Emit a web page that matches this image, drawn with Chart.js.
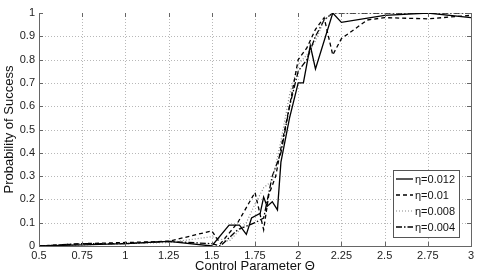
<!DOCTYPE html>
<html>
<head>
<meta charset="utf-8">
<script src="https://cdn.jsdelivr.net/npm/chart.js@4.4.1/dist/chart.umd.min.js"></script>
<style>
  html, body { margin: 0; padding: 0; background: #fff; }
  #wrap { width: 485px; height: 275px; }
</style>
</head>
<body>
<div id="wrap"><canvas id="chart"></canvas></div>
<script>
// data
const seriesLabels = ['η=0.012', 'η=0.01', 'η=0.008', 'η=0.004'];

const xA = [0.5, 0.75, 1.0, 1.25, 1.5, 1.6, 1.66, 1.7, 1.73, 1.78, 1.8, 1.82, 1.85, 1.88, 1.9, 1.95, 2.0, 2.03, 2.07, 2.1, 2.2, 2.25, 2.5, 2.75, 3.0];
const yA = [0, 0.005, 0.01, 0.02, 0, 0.09, 0.09, 0.05, 0.12, 0.14, 0.21, 0.17, 0.19, 0.155, 0.36, 0.55, 0.70, 0.70, 0.86, 0.76, 1.0, 0.96, 0.99, 1.0, 0.98];

const xB = [0.5, 0.75, 1.0, 1.25, 1.5, 1.55, 1.65, 1.75, 1.8, 1.83, 1.87, 1.9, 1.95, 2.0, 2.05, 2.1, 2.15, 2.2, 2.25, 2.4, 2.5, 2.75, 3.0];
const yB = [0, 0.01, 0.015, 0.02, 0.065, 0.01, 0.1, 0.23, 0.07, 0.22, 0.3, 0.42, 0.6, 0.8, 0.85, 0.93, 0.98, 0.82, 0.89, 0.97, 0.98, 0.975, 0.99];

const xC = [0.5, 0.75, 1.0, 1.25, 1.5, 1.6, 1.7, 1.75, 1.8, 1.85, 1.9, 1.95, 2.0, 2.05, 2.1, 2.15, 2.2, 2.5, 2.75, 3.0];
const yC = [0, 0.005, 0.01, 0.015, 0.04, 0.02, 0.1, 0.18, 0.25, 0.28, 0.45, 0.65, 0.78, 0.82, 0.88, 0.97, 1.0, 1.0, 1.0, 1.0];

const xD = [0.5, 0.75, 1.0, 1.25, 1.5, 1.55, 1.65, 1.75, 1.8, 1.85, 1.9, 1.95, 2.0, 2.05, 2.1, 2.15, 2.2, 2.5, 2.75, 3.0];
const yD = [0, 0.01, 0.01, 0.02, 0.01, 0, 0.07, 0.1, 0.12, 0.3, 0.4, 0.6, 0.75, 0.8, 0.9, 0.97, 1.0, 1.0, 1.0, 1.0];

const xTicks = [0.5, 0.75, 1, 1.25, 1.5, 1.75, 2, 2.25, 2.5, 2.75, 3];
const yTicks = [0, 0.1, 0.2, 0.3, 0.4, 0.5, 0.6, 0.7, 0.8, 0.9, 1];

const FONT = 'Liberation Sans, Arial, Helvetica, sans-serif';

function pts(xs, ys) {
    return xs.map((x, i) => ({ x: x, y: ys[i] }));
}

const styles = [
    { color: '#000', dash: [], width: 1.3 },
    { color: '#000', dash: [4, 3], width: 1.3 },
    { color: '#888', dash: [1, 2], width: 1.2 },
    { color: '#000', dash: [6, 2, 1.5, 2], width: 1.3 }
];
const seriesData = [pts(xA, yA), pts(xB, yB), pts(xC, yC), pts(xD, yD)];

// dotted grid drawn under the lines
const gridPlugin = {
    id: 'dotgrid',
    beforeDatasetsDraw(chart) {
        const ctx = chart.ctx;
        const a = chart.chartArea;
        const xs = chart.scales.x, ys = chart.scales.y;
        ctx.save();
        ctx.strokeStyle = '#b8b8b8';
        ctx.lineWidth = 1;
        ctx.setLineDash([1, 2]);
        ctx.beginPath();
        xTicks.slice(1, -1).forEach(v => {
            const px = Math.round(xs.getPixelForValue(v)) + 0.5;
            ctx.moveTo(px, a.top); ctx.lineTo(px, a.bottom);
        });
        yTicks.slice(1, -1).forEach(v => {
            const py = Math.round(ys.getPixelForValue(v)) + 0.5;
            ctx.moveTo(a.left, py); ctx.lineTo(a.right, py);
        });
        ctx.stroke();
        ctx.restore();
    }
};

// frame, inward ticks and the legend box drawn over the plot
const framePlugin = {
    id: 'frame',
    afterDraw(chart) {
        const ctx = chart.ctx;
        const a = chart.chartArea;
        const xs = chart.scales.x, ys = chart.scales.y;
        ctx.save();
        ctx.strokeStyle = '#666';
        ctx.lineWidth = 1;
        ctx.beginPath();
        ctx.moveTo(a.right + 0.5, a.top);
        ctx.lineTo(a.right + 0.5, a.bottom);
        xTicks.forEach(v => {
            const px = Math.round(xs.getPixelForValue(v)) + 0.5;
            ctx.moveTo(px, a.top); ctx.lineTo(px, a.top + 4);
            ctx.moveTo(px, a.bottom); ctx.lineTo(px, a.bottom - 4);
        });
        yTicks.forEach(v => {
            const py = Math.round(ys.getPixelForValue(v)) + 0.5;
            ctx.moveTo(a.left, py); ctx.lineTo(a.left + 4, py);
            ctx.moveTo(a.right, py); ctx.lineTo(a.right - 4, py);
        });
        ctx.stroke();

        // legend
        const bx = 393.5, by = 170.5, bw = 66, bh = 67;
        ctx.fillStyle = '#fff';
        ctx.fillRect(bx, by, bw, bh);
        ctx.strokeStyle = '#555';
        ctx.strokeRect(bx, by, bw, bh);
        ctx.font = '11px ' + FONT;
        ctx.textBaseline = 'middle';
        ctx.textAlign = 'left';
        seriesLabels.forEach((lab, i) => {
            const y = 179 + i * 16;
            const st = styles[i];
            ctx.strokeStyle = st.color;
            ctx.lineWidth = st.width;
            ctx.setLineDash(st.dash);
            ctx.beginPath();
            ctx.moveTo(396, y);
            ctx.lineTo(413, y);
            ctx.stroke();
            ctx.setLineDash([]);
            ctx.fillStyle = '#111';
            ctx.fillText(lab, 415, y + 0.5);
        });
        ctx.restore();
    }
};

const ctx = document.getElementById('chart').getContext('2d');
new Chart(ctx, {
    type: 'scatter',
    data: {
        datasets: seriesData.map((d, i) => ({
            label: seriesLabels[i],
            data: d,
            showLine: true,
            borderColor: styles[i].color,
            borderWidth: styles[i].width,
            borderDash: styles[i].dash,
            pointRadius: 0,
            tension: 0,
            fill: false
        }))
    },
    options: {
        responsive: true,
        maintainAspectRatio: false,
        animation: false,
        layout: { padding: { left: 0, right: 14, top: 13, bottom: 0 } },
        plugins: {
            legend: { display: false },
            tooltip: { enabled: false }
        },
        scales: {
            x: {
                type: 'linear',
                min: 0.5,
                max: 3,
                afterBuildTicks: s => { s.ticks = xTicks.map(v => ({ value: v })); },
                afterFit: s => { s.height = 29; },
                grid: { drawTicks: false, drawOnChartArea: false },
                border: { display: true, color: '#666', width: 1 },
                ticks: {
                    color: '#222',
                    padding: 3,
                    maxRotation: 0,
                    autoSkip: false,
                    font: { family: FONT, size: 11 },
                    callback: v => String(v)
                },
                title: {
                    display: true,
                    text: 'Control Parameter Θ',
                    color: '#111',
                    padding: { top: 0, bottom: 1 },
                    font: { family: FONT, size: 13 }
                }
            },
            y: {
                type: 'linear',
                min: 0,
                max: 1,
                afterBuildTicks: s => { s.ticks = yTicks.map(v => ({ value: v })); },
                afterFit: s => { s.width = 39; },
                grid: { drawTicks: false, drawOnChartArea: false },
                border: { display: true, color: '#666', width: 1 },
                ticks: {
                    color: '#222',
                    padding: 4,
                    autoSkip: false,
                    font: { family: FONT, size: 11 },
                    callback: v => String(v)
                },
                title: {
                    display: true,
                    text: 'Probability of Success',
                    color: '#111',
                    padding: { top: 2, bottom: 0 },
                    font: { family: FONT, size: 13 }
                }
            }
        }
    },
    plugins: [gridPlugin, framePlugin]
});
</script>
</body>
</html>
